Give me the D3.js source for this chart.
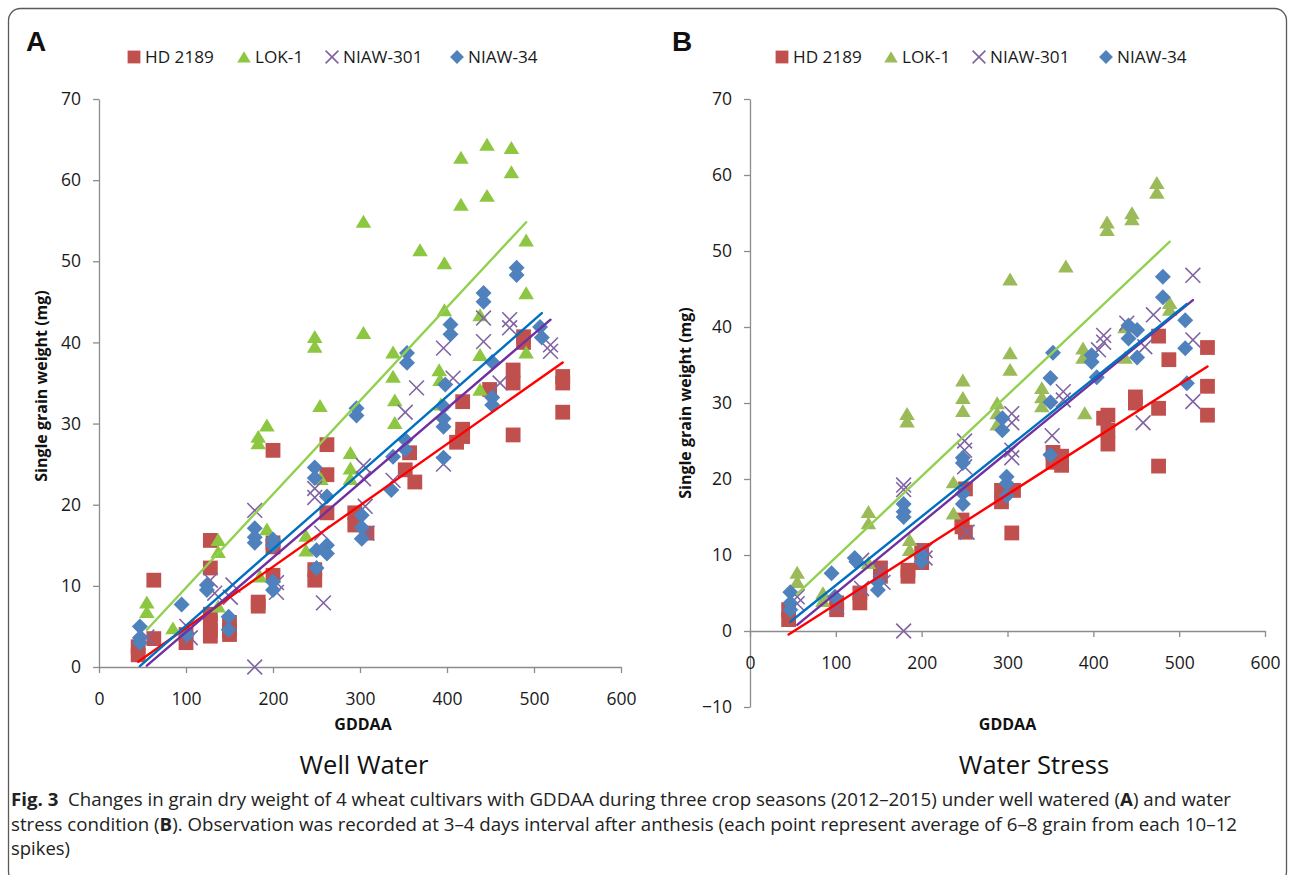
<!DOCTYPE html>
<html>
<head>
<meta charset="utf-8">
<script src="https://cdn.jsdelivr.net/npm/d3@7"></script>
<style>
  html, body { margin: 0; padding: 0; background: #fff; }
  svg { display: block; }
</style>
</head>
<body>
<div id="chart"></div>
<script>
// Cultivars and shared axis ticks
const cultivars = ['HD 2189', 'LOK-1', 'NIAW-301', 'NIAW-34'];
const xTicks = [0, 100, 200, 300, 400, 500, 600];
const yTicksWell = [0, 10, 20, 30, 40, 50, 60, 70];
const yTicksStress = [-10, 0, 10, 20, 30, 40, 50, 60, 70];

// Panel A - well water, [GDDAA, single grain weight mg]
const hd2189Well = [[45,2.5],[45,1.5],[63,10.7],[63,3.5],[100,3],[100,4],[128,15.6],[128,12.2],[128,6.5],[128,5.5],[128,4.5],[128,3.8],
  [150,5.5],[150,4.5],[150,4],[183,8],[183,7.5],[200,26.7],[200,15.3],[200,14.8],[200,11.3],[248,12],[248,10.7],
  [262,27.4],[262,23.7],[262,19],[294,19],[294,17.5],[308,16.5],[352,24.3],[357,26.4],[363,22.8],
  [411,27.7],[418,28.4],[418,32.7],[418,29.3],[449,34.2],[476,36.6],[476,35],[476,28.6],[488,40.7],[488,40],[533,35.8],[533,35],[533,31.4]];
const lok1Well = [[55,8],[55,6.8],[85,4.8],[137,15.7],[137,14.2],[137,7.5],[183,28.4],[183,27.6],[193,29.8],[193,17],[185,11.2],
  [238,16.2],[238,14.4],[248,40.7],[248,39.5],[254,32.2],[255,23.2],[289,26.4],[289,24.5],[289,23.2],[304,54.9],[304,41.2],
  [338,38.8],[338,35.8],[340,32.9],[340,30.1],[369,51.4],[391,36.6],[392,35.4],[393,32.4],[397,49.8],[397,44],
  [416,62.8],[416,57],[438,43.4],[438,38.5],[438,34.2],[446,64.4],[446,58.1],[474,64],[474,61],[491,52.6],[491,46.1],[491,38.8]];
const niaw301Well = [[55,3.7],[101,5],[105,3.6],[128,10.7],[133,9.1],[151,8.6],[154,10.1],[179,19.3],[179,0],[204,10.4],[204,9.2],
  [248,22],[248,20.9],[256,16.5],[258,7.9],[304,24.8],[304,23.2],[306,19.8],[308,16.5],[338,23],[352,31.4],[365,34.4],
  [396,39.3],[396,25],[407,35.6],[442,43],[442,40.1],[461,35],[472,42.8],[472,41.8],[519,39.7],[519,38.9]];
const niaw34Well = [[47,5],[47,3.6],[47,3],[95,7.7],[101,4],[124,10.1],[124,9.5],[149,6.2],[149,4.6],[179,17.1],[179,16],[179,15.3],
  [200,15.7],[200,15],[200,10.5],[200,9.5],[248,24.6],[248,23.3],[250,14.4],[250,12.2],[262,21],[262,15],[262,14],
  [296,31.9],[296,31],[302,18.7],[302,17.2],[302,15.8],[336,21.8],[338,25.9],[352,28],[352,26.8],[354,38.7],[354,37.5],
  [396,25.8],[396,29.6],[396,30.6],[396,32.1],[398,34.8],[404,42.2],[404,41],[442,46.1],[442,45],[452,37.6],[452,33.2],[452,32.3],
  [480,49.2],[480,48.3],[507,41.9],[509,40.6]];

// Panel B - water stress
const hd2189Stress = [[45,2.8],[45,1.5],[101,3.7],[101,2.8],[128,5],[128,3.7],[152,8.3],[152,7.2],[184,8],[184,7.2],[200,10.6],[200,9],
  [247,14.6],[247,13.7],[251,18.7],[251,13],[293,18.5],[293,17],[307,18.5],[305,12.9],[353,23.5],[353,22.2],[363,23],[363,21.8],
  [412,28],[417,28.4],[417,26.4],[417,24.6],[449,30.8],[449,30],[476,38.8],[476,29.3],[476,21.7],[488,35.7],[533,37.3],[533,32.2],[533,28.4]];
const lok1Stress = [[55,7.7],[55,6.5],[85,5],[85,4],[138,15.7],[138,14.2],[138,9],[183,28.6],[183,27.6],[186,12],[186,10.7],
  [237,19.6],[237,15.5],[248,33],[248,30.7],[248,29],[288,30],[288,28.7],[288,27.2],[303,46.3],[303,36.6],[303,34.4],
  [340,32],[340,30.8],[340,29.6],[368,48],[388,37.2],[388,36],[390,28.7],[416,53.8],[416,52.8],[437,40],[437,36],
  [445,55],[445,54.2],[474,59],[474,57.7],[489,43.2],[489,42.3]];
const niaw301Stress = [[55,4.5],[55,3.6],[101,3.2],[130,9.3],[130,5.6],[152,8],[155,6.4],[179,19.2],[179,18.6],[179,0],[204,10.6],[204,9.6],
  [250,25],[250,23.8],[250,21.6],[253,13],[305,28.6],[305,27.4],[305,23.8],[305,22.8],[352,25.7],[365,31.5],[365,30.4],
  [406,37],[412,38.9],[412,38],[439,40.5],[458,27.4],[460,37.4],[470,41.6],[516,46.8],[516,38.3],[516,30.2]];
const niaw34Stress = [[47,5.1],[47,3.7],[47,2.8],[95,7.6],[99,4.5],[122,9.6],[124,9.1],[149,6.4],[149,5.4],[179,16.7],[179,15.7],[179,15],
  [200,10],[200,9.1],[248,22.8],[248,22.1],[248,18.1],[248,16.7],[294,28],[294,26.4],[299,20.3],[299,19.4],[299,17.8],
  [350,33.3],[350,30.1],[350,23.2],[353,36.6],[398,36.3],[398,35.4],[404,33.4],[441,40.2],[441,38.5],[451,39.6],[451,36],
  [481,46.6],[481,43.9],[507,40.9],[507,37.2],[509,32.6]];

// Linear trendlines (slope, intercept) per cultivar
const trendSlopeWell = [0.0756, 0.1152, 0.0919, 0.0942];
const trendInterceptWell = [-2.76, -1.75, -4.89, -4.33];
const trendSlopeStress = [0.0723, 0.1068, 0.0927, 0.0905];
const trendInterceptStress = [-3.72, -1.0, -4.29, -3.04];

const W = 1295, H = 875;
const tickFont = '"Open Sans", "DejaVu Sans", sans-serif';
const markerShapes = ['square', 'triangle', 'cross', 'diamond'];
const lineColors = ['#FF0000', '#92D050', '#7030A0', '#0070C0'];

const svg = d3.select('#chart').append('svg')
  .attr('width', W).attr('height', H)
  .attr('viewBox', [0, 0, W, H]);

// outer frame
svg.append('rect')
  .attr('x', 8.5).attr('y', 8.5)
  .attr('width', 1278).attr('height', 875)
  .attr('rx', 12)
  .attr('fill', 'none')
  .attr('stroke', '#5a5a5a')
  .attr('stroke-width', 1.3);

function markerPath(shape, s) {
  // s = half size
  if (shape === 'square') return `M${-s},${-s}H${s}V${s}H${-s}Z`;
  if (shape === 'triangle') return `M0,${-s * 0.9}L${s * 1.05},${s * 0.85}H${-s * 1.05}Z`;
  if (shape === 'diamond') return `M0,${-s * 1.08}L${s * 1.08},0L0,${s * 1.08}L${-s * 1.08},0Z`;
  return `M${-s},${-s}L${s},${s}M${s},${-s}L${-s},${s}`;
}

function drawMarker(g, shape, color, s) {
  const p = g.append('path').attr('d', markerPath(shape, s));
  if (shape === 'cross') {
    p.attr('fill', 'none').attr('stroke', color).attr('stroke-width', 1.6);
  } else {
    p.attr('fill', color);
  }
  return p;
}

function drawPanel(cfg) {
  const x = d3.scaleLinear().domain([0, 600]).range([cfg.x0, cfg.x1]);
  const y = d3.scaleLinear().domain(cfg.yDomain).range(cfg.yRange);
  const g = svg.append('g');

  // panel letter
  g.append('text')
    .attr('x', cfg.letterX).attr('y', 51)
    .attr('font-family', '"Liberation Sans", Arial, sans-serif')
    .attr('font-weight', 'bold')
    .attr('font-size', 28)
    .attr('fill', '#111')
    .text(cfg.letter);

  // y axis
  const yAxis = g.append('g')
    .attr('transform', `translate(${cfg.x0},0)`)
    .call(d3.axisLeft(y).tickValues(cfg.yTicks).tickSize(6).tickPadding(12).tickSizeOuter(0));
  // x axis at y = 0
  const xAxis = g.append('g')
    .attr('transform', `translate(0,${y(0)})`)
    .call(d3.axisBottom(x).tickValues(xTicks).tickSize(6).tickPadding(cfg.xPad).tickSizeOuter(0));

  [yAxis, xAxis].forEach(ax => {
    ax.select('.domain').attr('stroke', '#8c8c8c').attr('stroke-width', 1.3);
    ax.selectAll('.tick line').attr('stroke', '#8c8c8c').attr('stroke-width', 1.3);
    ax.selectAll('.tick text')
      .attr('font-family', tickFont)
      .attr('font-size', 17.5)
      .attr('fill', '#1a1a1a');
  });

  // axis titles
  g.append('text')
    .attr('x', (cfg.x0 + cfg.x1) / 2 + cfg.gddOffset).attr('y', 730)
    .attr('text-anchor', 'middle')
    .attr('font-family', tickFont)
    .attr('font-weight', 'bold')
    .attr('font-size', 16)
    .attr('fill', '#111')
    .text('GDDAA');
  g.append('text')
    .attr('transform', `translate(${cfg.yTitleX},${cfg.yTitleY}) rotate(-90)`)
    .attr('text-anchor', 'middle')
    .attr('font-family', tickFont)
    .attr('font-weight', 'bold')
    .attr('font-size', 16)
    .attr('fill', '#111')
    .text('Single grain weight (mg)');

  // panel subtitle
  g.append('text')
    .attr('x', cfg.subX).attr('y', 774)
    .attr('text-anchor', 'middle')
    .attr('font-family', tickFont)
    .attr('font-size', 25.5)
    .attr('fill', '#111')
    .text(cfg.subtitle);

  // scatter points
  cfg.series.forEach((pts, i) => {
    const sg = g.append('g');
    pts.forEach(d => {
      drawMarker(sg, markerShapes[i], cfg.markerColors[i], 7.4)
        .attr('transform', `translate(${x(d[0])},${y(d[1])})`);
    });
  });

  // trendlines, over the x extent of each series
  cfg.series.forEach((pts, i) => {
    const ext = d3.extent(pts, d => d[0]);
    const f = v => cfg.slope[i] * v + cfg.intercept[i];
    g.append('line')
      .attr('x1', x(ext[0])).attr('y1', y(f(ext[0])))
      .attr('x2', x(ext[1])).attr('y2', y(f(ext[1])))
      .attr('stroke', lineColors[i])
      .attr('stroke-width', 2.4)
      .attr('stroke-linecap', 'round');
  });

  // legend
  const lg = g.append('g');
  cultivars.forEach((name, i) => {
    const mx = cfg.legendX[i];
    drawMarker(lg, markerShapes[i], cfg.markerColors[i], 6.4)
      .attr('transform', `translate(${mx},57)`);
    lg.append('text')
      .attr('x', mx + 11).attr('y', 63)
      .attr('font-family', tickFont)
      .attr('font-size', 17.2)
      .attr('fill', '#1a1a1a')
      .text(name);
  });
}

drawPanel({
  letter: 'A', letterX: 26,
  x0: 99, x1: 621,
  yDomain: [0, 70], yRange: [667, 99], yTicks: yTicksWell,
  xPad: 20, gddOffset: 3,
  yTitleX: 47, yTitleY: 386,
  subX: 364, subtitle: 'Well Water',
  series: [hd2189Well, lok1Well, niaw301Well, niaw34Well],
  slope: trendSlopeWell, intercept: trendInterceptWell,
  markerColors: ['#C0504D', '#8DC641', '#8064A2', '#4F81BD'],
  legendX: [134, 244, 332, 457]
});

drawPanel({
  letter: 'B', letterX: 672,
  x0: 750, x1: 1265,
  yDomain: [-10, 70], yRange: [707, 99], yTicks: yTicksStress,
  xPad: 20, gddOffset: 0,
  yTitleX: 691, yTitleY: 403,
  subX: 1034, subtitle: 'Water Stress',
  series: [hd2189Stress, lok1Stress, niaw301Stress, niaw34Stress],
  slope: trendSlopeStress, intercept: trendInterceptStress,
  markerColors: ['#C0504D', '#9BBB59', '#8064A2', '#4F81BD'],
  legendX: [782, 891, 979, 1106]
});

// figure caption
const capFont = '"Liberation Sans Narrow", "Open Sans", sans-serif';
const capLines = [
  { y: 806, len: 1220, parts: [['Fig. 3', true], ['  Changes in grain dry weight of 4 wheat cultivars with GDDAA during three crop seasons (2012–2015) under well watered (', false], ['A', true], [') and water', false]] },
  { y: 831, len: 1226, parts: [['stress condition (', false], ['B', true], ['). Observation was recorded at 3–4 days interval after anthesis (each point represent average of 6–8 grain from each 10–12', false]] },
  { y: 855, len: 59, parts: [['spikes)', false]] }
];
capLines.forEach(l => {
  const t = svg.append('text')
    .attr('x', 11).attr('y', l.y)
    .attr('font-family', capFont)
    .attr('font-size', 18)
    .attr('fill', '#222')
    .attr('textLength', l.len)
    .attr('lengthAdjust', 'spacingAndGlyphs')
    .style('white-space', 'pre');
  l.parts.forEach(p => {
    t.append('tspan').attr('font-weight', p[1] ? 'bold' : 'normal').text(p[0]);
  });
});
</script>
</body>
</html>
